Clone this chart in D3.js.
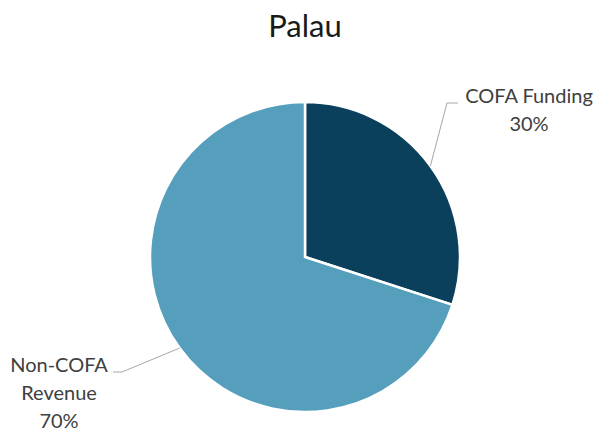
<!DOCTYPE html>
<html>
<head>
<meta charset="utf-8">
<script src="https://cdn.jsdelivr.net/npm/d3@7"></script>
<style>
  body { margin: 0; background: #fff; }
  text { font-family: Lato, "Open Sans", sans-serif; fill: #404040; }
</style>
</head>
<body>
<div id="chart"></div>
<script>
const categories = ["COFA Funding", "Non-COFA Revenue"];
const values = [30, 70];
const labelLines = [["COFA Funding", "30%"], ["Non-COFA", "Revenue", "70%"]];
const colors = ["#0b405d", "#559fbd"];

const width = 599, height = 432;
const cx = 305, cy = 257, r = 155;

const svg = d3.select("#chart").append("svg")
    .attr("width", width)
    .attr("height", height);

svg.append("text")
    .attr("x", cx)
    .attr("y", 37)
    .attr("text-anchor", "middle")
    .attr("font-size", "31px")
    .style("fill", "#1a1a1a")
    .text("Palau");

const pie = d3.pie().sort(null).value(d => d);
const arcs = pie(values);
const arc = d3.arc().innerRadius(0).outerRadius(r);

const g = svg.append("g").attr("transform", `translate(${cx},${cy})`);

g.selectAll("path")
    .data(arcs)
    .join("path")
    .attr("d", arc)
    .attr("fill", (d, i) => colors[i])
    .attr("stroke", "#fff")
    .attr("stroke-width", 2.5);

// label positions (relative to the pie centre) and leader elbows
const labelPos = [
    {x: 224, y: -154, elbow: [142, -154], end: [153, -154]},
    {x: -246, y: 115, elbow: [-183, 115], end: [-192, 115]}
];

arcs.forEach((d, i) => {
    const mid = (d.startAngle + d.endAngle) / 2;
    const edge = [Math.sin(mid) * r, -Math.cos(mid) * r];
    const p = labelPos[i];
    g.append("polyline")
        .attr("points", [edge, p.elbow, p.end].map(q => q.join(",")).join(" "))
        .attr("fill", "none")
        .attr("stroke", "#a6a6a6")
        .attr("stroke-width", 1);

    const t = g.append("text")
        .attr("text-anchor", "middle")
        .attr("font-size", "20px");
    labelLines[i].forEach((line, k) => {
        t.append("tspan")
            .attr("x", p.x)
            .attr("y", p.y + k * 28)
            .text(line);
    });
});
</script>
</body>
</html>
